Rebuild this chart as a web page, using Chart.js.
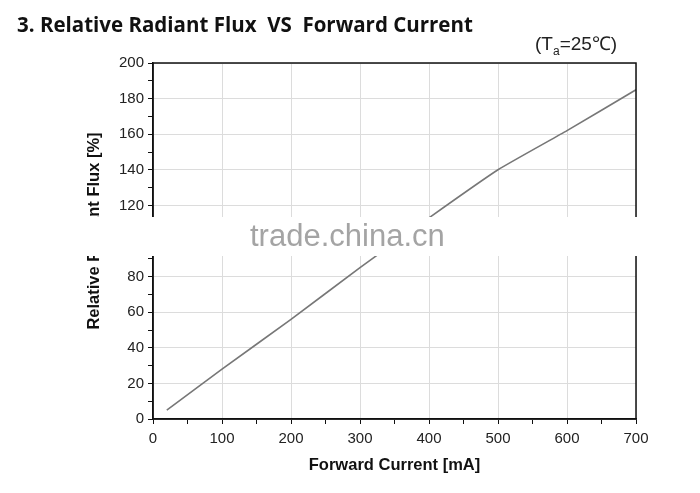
<!DOCTYPE html>
<html>
<head>
<meta charset="utf-8">
<script src="https://cdn.jsdelivr.net/npm/chart.js@4.4.1/dist/chart.umd.min.js"></script>
<style>
  body { margin: 0; background: #fff; }
  #wrap { position: relative; width: 700px; height: 493px; }
  #title {
    position: absolute; left: 17px; top: 10px;
    font: bold 20.5px "Open Sans", sans-serif; color: #111;
    white-space: pre;
  }
  #cond {
    position: absolute; left: 535px; top: 30px;
    font: 19px "Liberation Sans", Arial, sans-serif; color: #222;
  }
  #cond sub { font-size: 12px; }
</style>
</head>
<body>
<div id="wrap">
  <div id="title">3. Relative Radiant Flux  VS  Forward Current</div>
  <div id="cond">(T<sub>a</sub>=25℃)</div>
  <canvas id="chart" width="700" height="493"></canvas>
</div>
<script>
// values
const currentMA = [20, 100, 200, 300, 400, 500, 600, 700];
const relFlux = [5, 28, 56, 85, 113, 140, 162, 185];
const xTickLabels = ["0", "100", "200", "300", "400", "500", "600", "700"];
const yTickLabels = ["0", "20", "40", "60", "80", "100", "120", "140", "160", "180", "200"];
const yTitle = "Relative Radiant Flux [%]";

const boxPlugin = {
  id: "box",
  afterDraw(chart) {
    const { ctx, chartArea: a } = chart;
    ctx.save();
    ctx.strokeStyle = "#111";
    ctx.lineWidth = 1.5;
    ctx.strokeRect(a.left, a.top, a.right - a.left, a.bottom - a.top);
    // y title, sits a little above the plot centre
    ctx.translate(94, 231);
    ctx.rotate(-Math.PI / 2);
    ctx.fillStyle = "#111";
    ctx.font = "bold 16.5px 'Liberation Sans', Arial, sans-serif";
    ctx.textAlign = "center";
    ctx.textBaseline = "middle";
    ctx.fillText(yTitle, 0, 0);
    ctx.setTransform(1, 0, 0, 1, 0, 0);
    // watermark band
    ctx.fillStyle = "#fff";
    ctx.fillRect(0, 217, 700, 39);
    ctx.fillStyle = "#a4a4a4";
    ctx.font = "31px 'Liberation Sans', Arial, sans-serif";
    ctx.textAlign = "left";
    ctx.textBaseline = "alphabetic";
    ctx.fillText("trade.china.cn", 250, 246);
    ctx.restore();
  }
};

new Chart(document.getElementById("chart"), {
  type: "line",
  data: {
    datasets: [{
      data: currentMA.map((x, i) => ({ x: x, y: relFlux[i] })),
      borderColor: "#777",
      borderWidth: 1.6,
      pointRadius: 0,
      tension: 0.15,
      fill: false
    }]
  },
  options: {
    responsive: false,
    animation: false,
    layout: { padding: { top: 63, right: 64, left: 84, bottom: 0 } },
    plugins: { legend: { display: false }, tooltip: { enabled: false } },
    scales: {
      x: {
        type: "linear", min: 0, max: 700,
        afterFit(s) { s.height = 74; },
        ticks: {
          stepSize: 50, autoSkip: false, maxRotation: 0, padding: 6,
          color: "#222", font: { family: "Liberation Sans", size: 15 },
          callback: v => v % 100 === 0 ? xTickLabels[v / 100] : ""
        },
        grid: {
          color: ctx => ctx.tick && ctx.tick.value % 100 === 0 ? "#dcdcdc" : "rgba(0,0,0,0)",
          tickColor: "#111", tickLength: 5, lineWidth: 1
        },
        border: { color: "#111", width: 1.5 },
        title: {
          display: true, text: "Forward Current [mA]", color: "#111",
          font: { family: "Liberation Sans", size: 16.5, weight: "bold" },
          padding: { top: 0, bottom: 18 }
        }
      },
      y: {
        min: 0, max: 200,
        afterFit(s) { s.width = 69; },
        ticks: {
          stepSize: 10, autoSkip: false, padding: 4,
          color: "#222", font: { family: "Liberation Sans", size: 15 },
          callback: v => v % 20 === 0 ? yTickLabels[v / 20] : ""
        },
        grid: {
          color: ctx => ctx.tick && ctx.tick.value % 20 === 0 ? "#dcdcdc" : "rgba(0,0,0,0)",
          tickColor: "#111", tickLength: 5, lineWidth: 1
        },
        border: { color: "#111", width: 1.5 },
        title: { display: false }
      }
    }
  },
  plugins: [boxPlugin]
});
</script>
</body>
</html>
